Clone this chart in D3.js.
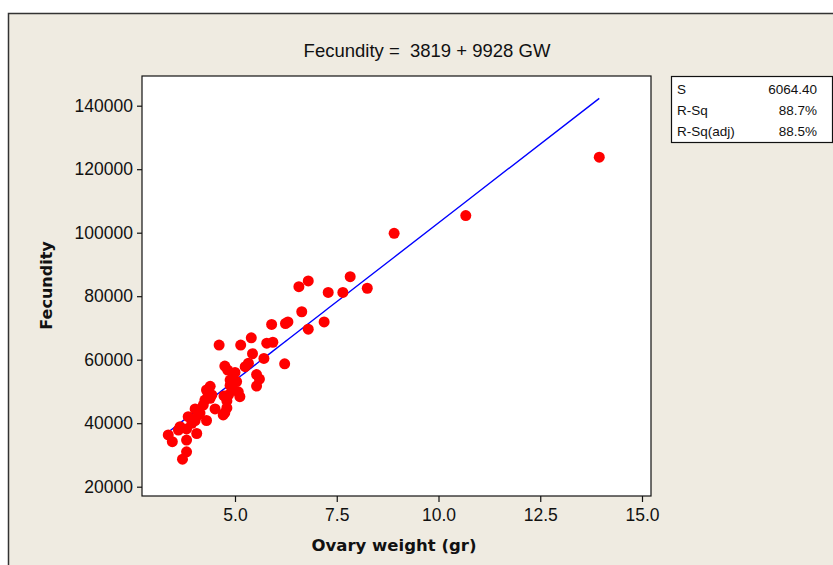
<!DOCTYPE html>
<html lang="en">
<head>
<meta charset="utf-8">
<script src="https://d3js.org/d3.v7.min.js"></script>
<style>
  body { margin: 0; background: #fff; }
  text { font-family: "Liberation Sans", Arial, sans-serif; fill: #111; }
  .bold { font-family: "DejaVu Sans", Verdana, sans-serif; font-weight: bold; }
</style>
</head>
<body>
<div id="my_dataviz"></div>
<script>

    // ovary weight (gr) and fecundity
    var weight = [13.95, 10.67, 8.91, 6.57, 6.80, 7.83, 8.25, 7.29, 7.65, 6.64,
                  5.90, 6.24, 6.30, 7.19, 6.80, 5.40, 5.78, 5.93, 4.61, 5.14,
                  5.43, 5.71, 6.22, 4.75, 5.33, 5.25, 5.00, 4.82, 5.53, 5.60,
                  4.88, 5.53, 5.04, 4.88, 4.39, 4.30, 4.96, 5.08, 4.84, 5.12,
                  4.73, 4.43, 4.34, 4.80, 4.26, 4.39, 4.80, 4.51, 4.02, 4.22,
                  4.75, 4.14, 4.71, 3.85, 4.10, 4.30, 4.02, 3.94, 3.65, 3.61,
                  3.81, 4.06, 3.36, 3.46, 3.81, 3.81, 3.71];
    var fecundity = [123800, 105400, 99800, 83000, 84800, 86150, 82500, 81170, 81170, 75100,
                     71100, 71400, 71900, 71900, 69600, 66900, 65200, 65500, 64600, 64600,
                     61900, 60400, 58700, 58000, 58900, 57800, 56000, 56750, 55300, 53900,
                     53600, 51700, 53100, 51900, 51600, 50460, 50460, 49900, 48900, 48350,
                     48600, 48900, 49400, 47000, 47300, 47850, 44800, 44500, 44500, 45700,
                     43300, 43200, 42600, 42050, 42600, 40850, 40850, 39970, 38900, 37860,
                     38180, 36760, 36290, 34180, 34700, 31000, 28660];

    // fitted line from the title
    var intercept = 3819, slope = 9928;
    var xTicks = [5, 7.5, 10, 12.5, 15];
    var yTicks = [20000, 40000, 60000, 80000, 100000, 120000, 140000];
    var statNames = ["S", "R-Sq", "R-Sq(adj)"];
    var statValues = ["6064.40", "88.7%", "88.5%"];

    var W = 833, H = 565;
    var plot = {left: 142, right: 651, top: 76, bottom: 496};

    var svg = d3.select("#my_dataviz")
      .append("svg")
        .attr("width", W)
        .attr("height", H);

    // beige frame
    svg.append("rect")
        .attr("x", 8.5).attr("y", 13.5)
        .attr("width", W + 20).attr("height", H + 20)
        .style("fill", "#efebe1")
        .style("stroke", "#333")
        .style("stroke-width", 1.5);

    // plot area
    svg.append("rect")
        .attr("x", plot.left).attr("y", plot.top)
        .attr("width", plot.right - plot.left).attr("height", plot.bottom - plot.top)
        .style("fill", "white")
        .style("stroke", "#111")
        .style("stroke-width", 1.2);

    var x = d3.scaleLinear().domain([5, 15]).range([235, 642]);
    var y = d3.scaleLinear().domain([20000, 140000]).range([486.7, 105.7]);

    // axes
    var xAxis = svg.append("g")
        .attr("transform", "translate(0," + plot.bottom + ")")
        .call(d3.axisBottom(x).tickValues(xTicks).tickSize(6).tickPadding(7).tickFormat(d3.format(".1f")));
    xAxis.select(".domain").remove();

    var yAxis = svg.append("g")
        .attr("transform", "translate(" + plot.left + ",0)")
        .call(d3.axisLeft(y).tickValues(yTicks).tickSize(5).tickPadding(4).tickFormat(d3.format("d")));
    yAxis.select(".domain").remove();

    svg.selectAll(".tick line").attr("stroke", "#111").attr("stroke-width", 1.2);
    svg.selectAll(".tick text")
        .style("font-family", "'Liberation Sans', Arial, sans-serif")
        .style("font-size", "17.5px")
        .attr("fill", "#111");

    // regression line
    var fit = weight.slice().sort(d3.ascending).map(function(w) { return [w, intercept + slope * w]; });
    svg.append("path")
        .datum(fit)
        .attr("d", d3.line().x(function(d) { return x(d[0]); }).y(function(d) { return y(d[1]); }))
        .style("fill", "none")
        .style("stroke", "#0000ff")
        .style("stroke-width", 1.4);

    // points
    svg.append("g")
      .selectAll("circle")
      .data(d3.range(weight.length))
      .enter()
      .append("circle")
        .attr("cx", function(i) { return x(weight[i]); })
        .attr("cy", function(i) { return y(fecundity[i]); })
        .attr("r", 5.5)
        .style("fill", "#ff0000");

    // title and axis labels
    svg.append("text")
        .attr("x", 427).attr("y", 57)
        .attr("text-anchor", "middle")
        .style("font-size", "18.5px")
        .text("Fecundity =  3819 + 9928 GW")
        .attr("xml:space", "preserve")
        .style("white-space", "pre");

    svg.append("text")
        .attr("class", "bold")
        .attr("x", 394).attr("y", 551)
        .attr("text-anchor", "middle")
        .style("font-size", "16.5px")
        .text("Ovary weight (gr)");

    svg.append("text")
        .attr("class", "bold")
        .attr("transform", "translate(52,285.5) rotate(-90)")
        .attr("text-anchor", "middle")
        .style("font-size", "16px")
        .text("Fecundity");

    // stats box
    svg.append("rect")
        .attr("x", 671.5).attr("y", 76.5)
        .attr("width", 161).attr("height", 66)
        .style("fill", "white")
        .style("stroke", "#111")
        .style("stroke-width", 1.2);

    statNames.forEach(function(name, i) {
      svg.append("text")
        .attr("x", 677).attr("y", 94 + i * 20.8)
        .style("font-size", "13.5px")
        .text(name);
      svg.append("text")
        .attr("x", 817).attr("y", 94 + i * 20.8)
        .attr("text-anchor", "end")
        .style("font-size", "13.5px")
        .text(statValues[i]);
    });

</script>
</body>
</html>
